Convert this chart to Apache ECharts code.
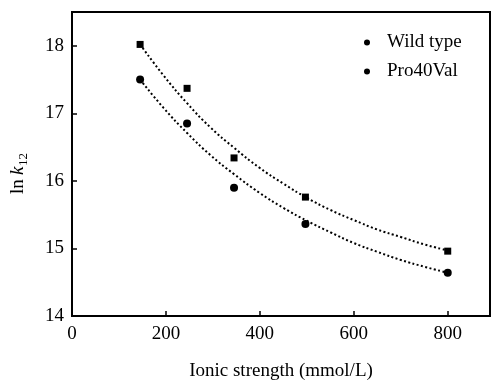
<!DOCTYPE html>
<html><head><meta charset="utf-8">
<script src="https://cdn.jsdelivr.net/npm/echarts@6/dist/echarts.min.js"></script>
<style>html,body{margin:0;padding:0;background:#fff}#c{width:492px;height:386px}</style>
</head><body><div id="c"></div>
<script>
// Measured points
const ionic = [145, 245, 345, 497, 800];
const wildType = [18.02, 17.37, 16.34, 15.76, 14.96];
const pro40Val = [17.50, 16.85, 15.90, 15.36, 14.64];
// Fitted dotted curves
const fitX = [145, 195, 245, 295, 345, 400, 450, 500, 550, 600, 650, 700, 750, 800];
const wildFit = [18.02, 17.56, 17.15, 16.79, 16.49, 16.19, 15.96, 15.75, 15.57, 15.42, 15.28, 15.17, 15.06, 14.97];
const proFit = [17.50, 17.08, 16.71, 16.38, 16.10, 15.82, 15.60, 15.41, 15.24, 15.08, 14.95, 14.83, 14.73, 14.64];
const seriesNames = ['Wild type', 'Pro40Val'];

const pair = (xs, ys) => xs.map((x, i) => [x, ys[i]]);
const FONT = '"Liberation Serif", "DejaVu Serif", serif';
const chart = echarts.init(document.getElementById('c'), null, {renderer: 'canvas'});
const dotted = {color: '#000', width: 2, type: [2, 2.4]};
chart.setOption({
  animation: false,
  backgroundColor: '#fff',
  grid: {left: 72, right: 2, top: 12, bottom: 63, show: true, borderColor: '#000', borderWidth: 2},
  legend: {
    data: [{name: seriesNames[0], icon: 'circle'}, {name: seriesNames[1], icon: 'circle'}],
    orient: 'vertical', left: 359, top: 28, itemWidth: 6, itemHeight: 6, itemGap: 10,
    textStyle: {fontFamily: FONT, fontSize: 19, color: '#000', padding: [0, 0, 0, 12]}
  },
  xAxis: {
    type: 'value', min: 0, max: 890, interval: 200,
    name: 'Ionic strength (mmol/L)', nameLocation: 'middle', nameGap: 46,
    nameTextStyle: {fontFamily: FONT, fontSize: 19, color: '#000'},
    axisLine: {lineStyle: {color: '#000', width: 2}},
    axisTick: {inside: true, length: 5, lineStyle: {color: '#000', width: 1.5}},
    axisLabel: {fontFamily: FONT, fontSize: 19, color: '#000', margin: 9, showMaxLabel: false},
    splitLine: {show: false}
  },
  yAxis: {
    type: 'value', min: 14, max: 18.5, interval: 1,
    axisLine: {lineStyle: {color: '#000', width: 2}},
    axisTick: {inside: true, length: 5, lineStyle: {color: '#000', width: 1.5}},
    axisLabel: {fontFamily: FONT, fontSize: 19, color: '#000', margin: 8, showMaxLabel: false},
    splitLine: {show: false}
  },
  graphic: [{
    type: 'group', x: 26, y: 194, rotation: Math.PI / 2,
    children: [
      {type: 'text', x: 0, y: -8, style: {text: 'ln', font: '19px ' + FONT, fill: '#000', textVerticalAlign: 'middle'}},
      {type: 'text', x: 19, y: -8, style: {text: 'k', font: 'italic 19px ' + FONT, fill: '#000', textVerticalAlign: 'middle'}},
      {type: 'text', x: 28, y: -2, style: {text: '12', font: '13px ' + FONT, fill: '#000', textVerticalAlign: 'middle'}}
    ]
  }],
  series: [
    {name: seriesNames[0], type: 'scatter', data: pair(ionic, wildType), symbol: 'rect', symbolSize: 7, itemStyle: {color: '#000', opacity: 1}, z: 5},
    {name: seriesNames[1], type: 'scatter', data: pair(ionic, pro40Val), symbol: 'circle', symbolSize: 8, itemStyle: {color: '#000', opacity: 1}, z: 5},
    {name: 'wfit', type: 'line', data: pair(fitX, wildFit), smooth: true, showSymbol: false, symbol: 'none', lineStyle: dotted},
    {name: 'pfit', type: 'line', data: pair(fitX, proFit), smooth: true, showSymbol: false, symbol: 'none', lineStyle: dotted}
  ]
});
</script></body></html>
